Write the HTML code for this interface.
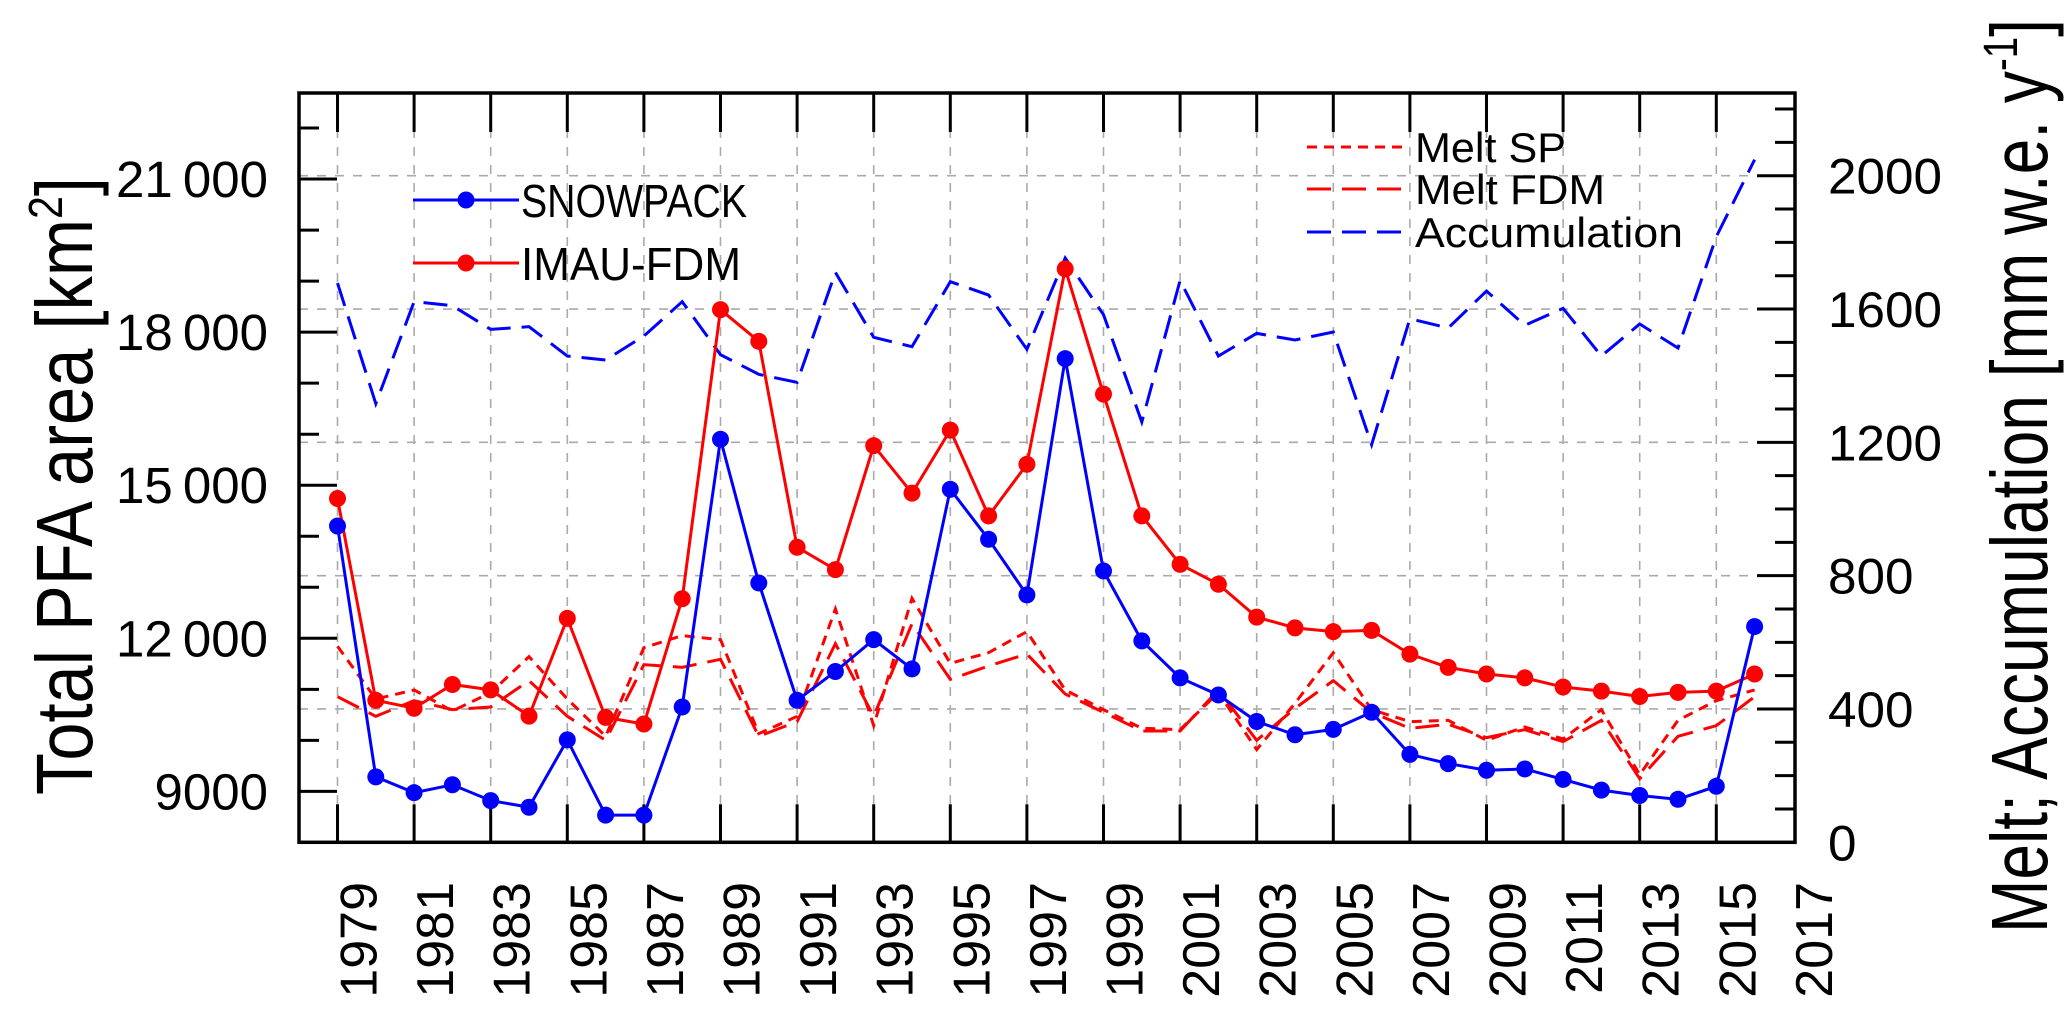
<!DOCTYPE html>
<html><head><meta charset="utf-8"><style>
html,body{margin:0;padding:0;background:#fff;}
svg{display:block;font-family:"Liberation Sans",sans-serif;}
</style></head><body>
<svg id="chart" width="2067" height="1009" viewBox="0 0 2067 1009" xmlns="http://www.w3.org/2000/svg"></svg>
<script>
const years = [];
for (let y = 1979; y <= 2016; y++) years.push(y);
const snowpack = [14200,9285,8975,9130,8820,8690,10010,8535,8535,10655,15900,13085,10785,11350,11975,11400,14920,13940,12850,17480,13320,11950,11225,10890,10370,10110,10215,10550,9725,9545,9415,9440,9235,9025,8920,8845,9100,12230];
const imauFdm = [14740,10785,10630,11095,10990,10475,12390,10450,10320,12775,18440,17820,13785,13345,15775,14845,16080,14400,15410,19240,16785,14400,13450,13060,12415,12205,12130,12155,11690,11430,11300,11225,11045,10965,10860,10940,10965,11300];
const meltSP = [588,430,457,394,449,557,430,318,584,620,608,326,378,700,350,732,537,569,632,457,398,342,338,449,278,417,569,398,362,366,306,346,310,398,203,366,425,457];
const meltFDM = [437,378,425,398,406,485,378,306,533,525,549,318,362,596,378,656,489,529,565,445,390,334,334,457,306,402,485,390,342,354,314,338,302,366,191,318,350,437];
const accumulation = [1678,1316,1622,1610,1539,1547,1459,1447,1519,1622,1463,1404,1380,1710,1515,1487,1682,1642,1479,1753,1583,1261,1686,1459,1527,1507,1531,1193,1571,1543,1654,1551,1602,1459,1555,1483,1817,2048];
const leftTicks = [9000,12000,15000,18000,21000];
const leftTickLabels = ["9000","12\u2009000","15\u2009000","18\u2009000","21\u2009000"];
const rightTicks = [0,400,800,1200,1600,2000];
const xTickYears = [1979,1981,1983,1985,1987,1989,1991,1993,1995,1997,1999,2001,2003,2005,2007,2009,2011,2013,2015,2017];

const NS = "http://www.w3.org/2000/svg";
const svg = document.getElementById('chart');
const PL = 299, PR = 1795, PT = 93, PB = 842.3;
function xS(yr){ return 337.5 + (yr - 1979) * 38.3; }
function yL(v){ return 791.4 - (v - 9000) * 0.05103; }
function yR(v){ return 842.3 - v * 0.3333; }
function mk(tag, attrs, parent){
  const e = document.createElementNS(NS, tag);
  for (const k in attrs) e.setAttribute(k, attrs[k]);
  (parent || svg).appendChild(e);
  return e;
}

// grid
const grid = mk('g', {});


xTickYears.forEach(yr => {
  if (yr >= 2017) return;
  const l = mk('line', {x1:xS(yr), x2:xS(yr), y1:PT, y2:PB, stroke:'#aaa', 'stroke-width':1.6, 'stroke-dasharray':'9,9'}, grid);
  
  
});
rightTicks.forEach(v => {
  if (v === 0) return;
  const l = mk('line', {x1:PL, x2:PR, y1:yR(v), y2:yR(v), stroke:'#aaa', 'stroke-width':1.6, 'stroke-dasharray':'9,9'}, grid);
  
  
});

// ticks
const ticks = mk('g', {stroke:'#000', 'stroke-width':3});


for (let v = 9000; v <= 22000; v += 1000) {
  const len = (v % 3000 === 0) ? 38 : 20;
  const t = mk('line', {x1:PL, x2:PL+len, y1:yL(v), y2:yL(v)}, ticks);
  
  
}
for (let v = 100; v <= 2200; v += 100) {
  const len = (v % 400 === 0) ? 38 : 20;
  const t = mk('line', {x1:PR-len, x2:PR, y1:yR(v), y2:yR(v)}, ticks);
  
  
}
xTickYears.forEach(yr => {
  if (yr >= 2017) return;
  const t1 = mk('line', {x1:xS(yr), x2:xS(yr), y1:PB, y2:PB-38}, ticks);
  
  
  const t2 = mk('line', {x1:xS(yr), x2:xS(yr), y1:PT, y2:PT+39}, ticks);
  
  
});

// series
function dashed(vals, color, dash, name){
  const pts = vals.map((v,i) => xS(years[i]) + ',' + yR(v)).join(' ');
  const p = mk('polyline', {points:pts, fill:'none', stroke:color, 'stroke-width':3, 'stroke-dasharray':dash});
  
  
}
dashed(accumulation, '#0000ff', '24,11', 'accumulation-line');
dashed(meltFDM, '#ff0000', '24,11', 'melt-fdm-line');
dashed(meltSP, '#ff0000', '10,7', 'melt-sp-line');

function solid(vals, color, name){
  const g = mk('g', {});
  
  
  const pts = vals.map((v,i) => xS(years[i]) + ',' + yL(v)).join(' ');
  const p = mk('polyline', {points:pts, fill:'none', stroke:color, 'stroke-width':3}, g);
  
  
  vals.forEach((v,i) => {
    const c = mk('circle', {cx:xS(years[i]), cy:yL(v), r:8.5, fill:color}, g);
    
    
  });
}
solid(imauFdm, '#ff0000', 'imau-fdm');
solid(snowpack, '#0000ff', 'snowpack');

// frame
const frame = mk('rect', {x:PL, y:PT, width:PR-PL, height:PB-PT, fill:'none', stroke:'#000', 'stroke-width':3.5});



// left tick labels
leftTicks.forEach((v,i) => {
  const t = mk('text', {x:268, y:yL(v)+18, 'text-anchor':'end', 'font-size':51});
  t.textContent = leftTickLabels[i];
  
  
});
// right tick labels
rightTicks.forEach(v => {
  const t = mk('text', {x:1828, y:yR(v)+18, 'text-anchor':'start', 'font-size':50, textLength: String(v).length*28.5, lengthAdjust:'spacingAndGlyphs'});
  t.textContent = String(v);
  
  
});
// x tick labels
xTickYears.forEach(yr => {
  const bx = xS(yr) + 39;
  const t = mk('text', {x:bx, y:882, 'text-anchor':'end', 'font-size':52, transform:'rotate(-90 '+bx+' 882)'});
  t.textContent = String(yr);
  
  
});

// axis titles
const lt = mk('text', {x:92, y:486, 'text-anchor':'middle', 'font-size':80, textLength:618, lengthAdjust:'spacingAndGlyphs', transform:'rotate(-90 92 486)'});
lt.innerHTML = 'Total PFA area [km<tspan dy="-30" font-size="48">2</tspan><tspan dy="30">]</tspan>';


const rt = mk('text', {x:2047, y:476, 'text-anchor':'middle', 'font-size':80, textLength:914, lengthAdjust:'spacingAndGlyphs', transform:'rotate(-90 2047 476)'});
rt.innerHTML = 'Melt; Accumulation [mm w.e. y<tspan dy="-30" font-size="48">-1</tspan><tspan dy="30">]</tspan>';



// legend left
const legL = mk('g', {});


[['SNOWPACK','#0000ff',200],['IMAU-FDM','#ff0000',263]].forEach(([lab,col,ly]) => {
  const e = mk('g', {}, legL);
  
  
  mk('line', {x1:413, x2:519, y1:ly, y2:ly, stroke:col, 'stroke-width':3}, e);
  mk('circle', {cx:466, cy:ly, r:8.5, fill:col}, e);
  const t = mk('text', {x:521, y:ly+17, 'font-size':46, textLength: lab==='SNOWPACK'?226:220, lengthAdjust:'spacingAndGlyphs'}, e);
  t.textContent = lab;
});
// legend right
const legR = mk('g', {});


[['Melt SP','#ff0000','10,7',147,151],['Melt FDM','#ff0000','24,11',189,190],['Accumulation','#0000ff','24,11',232,268]].forEach(([lab,col,dash,ly,tl]) => {
  const e = mk('g', {}, legR);
  
  
  mk('line', {x1:1307, x2:1404, y1:ly, y2:ly, stroke:col, 'stroke-width':3, 'stroke-dasharray':dash}, e);
  const t = mk('text', {x:1415, y:ly+15, 'font-size':42, textLength:tl, lengthAdjust:'spacingAndGlyphs'}, e);
  t.textContent = lab;
});
</script>
</body></html>
